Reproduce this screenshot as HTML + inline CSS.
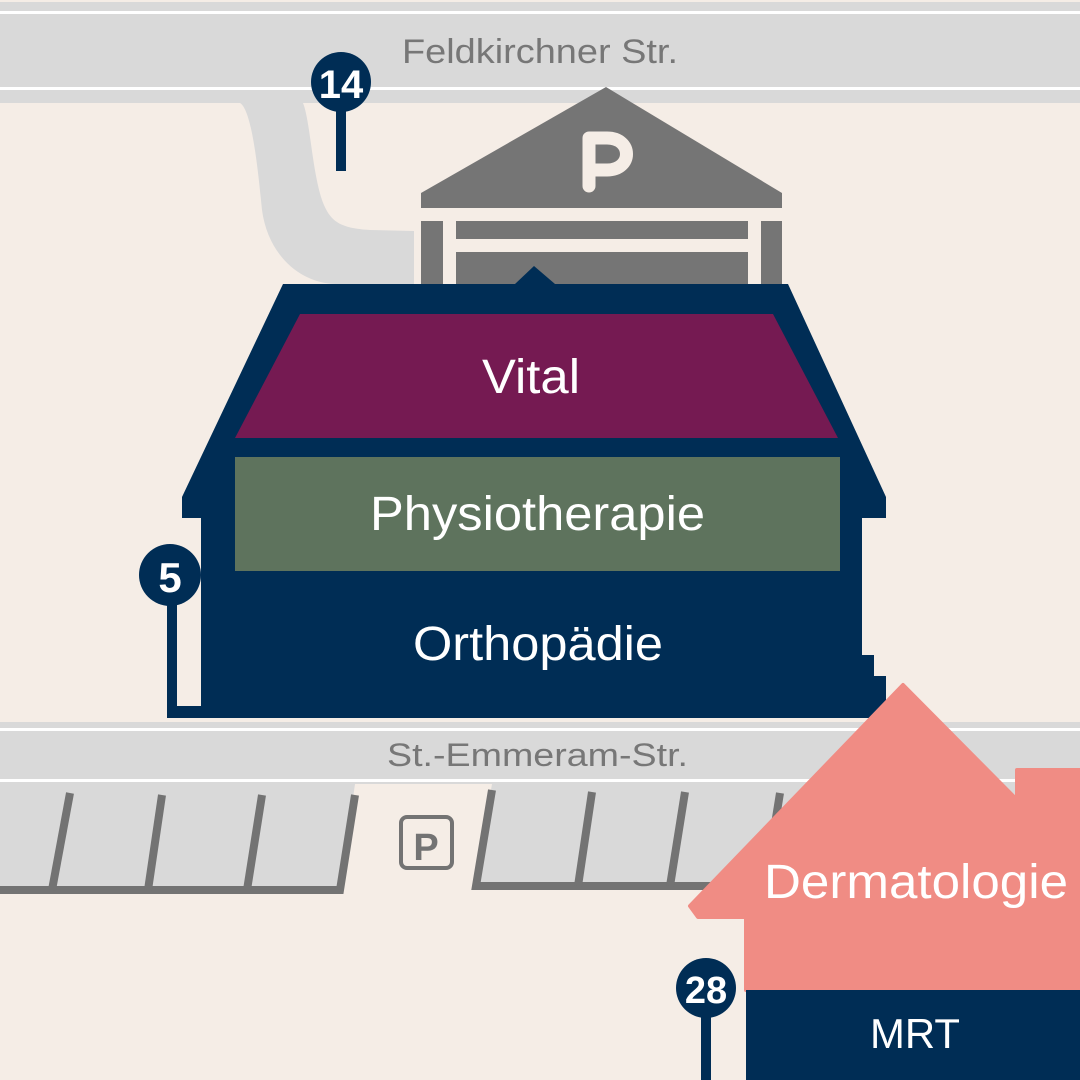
<!DOCTYPE html>
<html><head><meta charset="utf-8"><style>
html,body{margin:0;padding:0;background:#f5ede6;}
svg{display:block;}
text{font-family:"Liberation Sans",sans-serif;}
</style></head><body>
<svg width="1080" height="1080" viewBox="0 0 1080 1080" xmlns="http://www.w3.org/2000/svg">
<rect width="1080" height="1080" fill="#f5ede6"/>
<!-- top road -->
<rect x="0" y="2" width="1080" height="101" fill="#d9d9d9"/>
<rect x="0" y="11" width="1080" height="3" fill="#fff"/>
<rect x="0" y="87" width="1080" height="3" fill="#fff"/>
<text x="402" y="63" font-size="34" fill="#777" textLength="276" lengthAdjust="spacingAndGlyphs">Feldkirchner Str.</text>
<!-- driveway -->
<path d="M240,103 C252,110 258,170 262,210 C268,255 300,283 335,284 L414,284 L414,231 L370,230 C340,228 330,222 322,200 C312,170 310,120 303,103 Z" fill="#d9d9d9"/>
<!-- pin 14 -->
<rect x="336" y="105" width="10" height="66" fill="#002d55"/>
<circle cx="341" cy="82" r="30" fill="#002d55"/>
<text x="341" y="98" font-size="40" font-weight="bold" fill="#fff" text-anchor="middle">14</text>
<!-- parking garage -->
<polygon points="421,193 606,87 782,193 782,208 421,208" fill="#757575"/>
<path d="M589,186 L589,138 L607,138 C633,138 633,170 607,170 L589,170" fill="none" stroke="#f5ede6" stroke-width="13" stroke-linecap="round" stroke-linejoin="round"/>
<rect x="421" y="221" width="22" height="64" fill="#757575"/>
<rect x="761" y="221" width="21" height="64" fill="#757575"/>
<rect x="456" y="221" width="292" height="18" fill="#757575"/>
<rect x="456" y="252" width="292" height="33" fill="#757575"/>
<!-- main building -->
<polygon points="515,284 534,266 555,284" fill="#002d55"/>
<polygon points="283,284 788,284 886,497 886,518 862,518 862,655 874,655 874,676 886,676 886,718 167,718 167,600 177,600 177,706 201,706 201,518 182,518 182,497" fill="#002d55"/>
<polygon points="300,314 773,314 838,438 235,438" fill="#751a52"/>
<text x="482" y="393" font-size="48" fill="#fff" textLength="98" lengthAdjust="spacingAndGlyphs">Vital</text>
<rect x="235" y="457" width="605" height="114" fill="#5e735d"/>
<text x="370" y="530" font-size="48" fill="#fff" textLength="335" lengthAdjust="spacingAndGlyphs">Physiotherapie</text>
<text x="413" y="660" font-size="48" fill="#fff" textLength="250" lengthAdjust="spacingAndGlyphs">Orthopädie</text>
<!-- pin 5 -->
<circle cx="170" cy="575" r="31" fill="#002d55"/>
<text x="170" y="592" font-size="42" font-weight="bold" fill="#fff" text-anchor="middle">5</text>
<!-- bottom road -->
<rect x="0" y="722" width="1080" height="62" fill="#d9d9d9"/>
<rect x="0" y="728" width="1080" height="3" fill="#fff"/>
<rect x="0" y="779" width="1080" height="3" fill="#fff"/>
<text x="387" y="766" font-size="32" fill="#777" textLength="301" lengthAdjust="spacingAndGlyphs">St.-Emmeram-Str.</text>
<!-- left parking -->
<polygon points="0,784 355,784 340,890 0,890" fill="#d9d9d9"/>
<g stroke="#737373" stroke-width="8" fill="none">
<polyline points="0,890 340,890 355,795"/>
<line x1="70" y1="793" x2="52" y2="890"/>
<line x1="162" y1="795" x2="148" y2="890"/>
<line x1="262" y1="795" x2="247" y2="890"/>
</g>
<!-- right parking -->
<polygon points="492,784 1080,784 1080,885 475,885" fill="#d9d9d9"/>
<g stroke="#737373" stroke-width="8" fill="none">
<polyline points="492,790 476,886 780,886"/>
<line x1="592" y1="792" x2="578" y2="886"/>
<line x1="685" y1="792" x2="670" y2="886"/>
<line x1="780" y1="793" x2="765" y2="886"/>
</g>
<!-- P sign -->
<rect x="401" y="817" width="51" height="51" rx="6" fill="none" stroke="#737373" stroke-width="4"/>
<text x="426" y="860" font-size="38" font-weight="bold" fill="#737373" text-anchor="middle">P</text>
<!-- Dermatologie house -->
<polygon points="903,685 1017,800 1017,770 1080,770 1080,990 746,990 746,917 698,917 690,906" fill="#f08c84" stroke="#f08c84" stroke-width="4" stroke-linejoin="round"/>
<text x="764" y="898" font-size="48" fill="#fff" textLength="304" lengthAdjust="spacingAndGlyphs">Dermatologie</text>
<rect x="746" y="990" width="334" height="90" fill="#002d55"/>
<text x="870" y="1048" font-size="42" fill="#fff" textLength="90" lengthAdjust="spacingAndGlyphs">MRT</text>
<!-- pin 28 -->
<rect x="701" y="1008" width="10" height="72" fill="#002d55"/>
<circle cx="706" cy="988" r="30" fill="#002d55"/>
<text x="706" y="1003" font-size="38" font-weight="bold" fill="#fff" text-anchor="middle">28</text>
</svg>
</body></html>
